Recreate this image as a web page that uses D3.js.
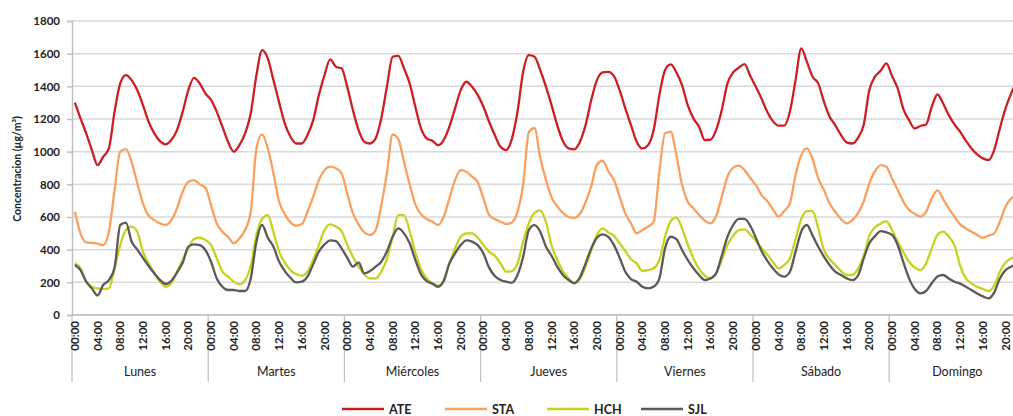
<!DOCTYPE html>
<html>
<head>
<meta charset="utf-8">
<script src="https://cdn.jsdelivr.net/npm/d3@7"></script>
<style>
  html, body { margin: 0; padding: 0; background: #fff; }
  svg { display: block; font-family: Lato, "Open Sans", sans-serif; }
</style>
</head>
<body>
<svg id="chart" width="1013" height="416"></svg>
<script>
// ---------------- DATA ----------------
const days = ["Lunes", "Martes", "Miércoles", "Jueves", "Viernes", "Sábado", "Domingo"];
const hours = ["00:00","01:00","02:00","03:00","04:00","05:00","06:00","07:00","08:00","09:00","10:00","11:00",
               "12:00","13:00","14:00","15:00","16:00","17:00","18:00","19:00","20:00","21:00","22:00","23:00"];
const hourTickLabels = ["00:00", "04:00", "08:00", "12:00", "16:00", "20:00"];
const yTicks = [0, 200, 400, 600, 800, 1000, 1200, 1400, 1600, 1800];
const seriesNames = ["ATE", "STA", "HCH", "SJL"];

const ATE = [
  1300,1204,1112,1010,918,969,1020,1244,1418,1469,1438,1377,1285,1183,1112,1065,1045,1071,1132,1244,1377,1452,1418,1357,
  1317,1245,1153,1061,1000,1040,1112,1234,1469,1622,1571,1438,1302,1173,1091,1050,1050,1102,1193,1346,1469,1565,1520,1510,
  1397,1255,1132,1061,1050,1081,1204,1400,1581,1587,1510,1418,1275,1142,1081,1067,1040,1071,1153,1265,1377,1428,1397,1346,
  1275,1183,1102,1030,1010,1077,1244,1489,1591,1581,1500,1400,1285,1163,1065,1020,1014,1061,1163,1316,1438,1485,1489,1463,
  1377,1265,1163,1061,1020,1040,1132,1346,1499,1534,1485,1408,1285,1204,1153,1071,1073,1132,1255,1418,1485,1514,1536,1465,
  1397,1326,1244,1187,1159,1159,1244,1438,1632,1550,1459,1418,1306,1214,1163,1102,1057,1050,1085,1163,1377,1459,1495,1540,
  1463,1387,1261,1193,1142,1157,1167,1275,1350,1295,1224,1167,1122,1067,1020,983,959,949,1010,1142,1265,1357,1430,1480
];
const STA = [
  632,500,445,441,437,428,510,765,1000,1016,938,806,683,608,581,561,551,581,653,755,816,826,800,779,
  673,561,510,479,439,469,520,632,1020,1106,1020,867,694,616,567,547,557,632,724,826,887,908,898,867,
  745,622,555,506,490,520,673,870,1105,1077,938,800,677,616,588,571,551,602,714,826,887,877,847,812,
  714,612,588,571,557,567,632,800,1120,1145,965,830,720,665,625,600,595,620,690,790,920,945,881,826,
  724,622,561,500,520,541,571,877,1112,1122,979,796,694,653,612,578,561,606,724,847,902,914,887,840,
  796,734,698,647,602,637,683,857,979,1020,955,836,765,683,632,588,561,581,622,694,806,881,918,908,
  836,765,694,643,620,602,632,714,763,710,653,602,555,530,510,490,473,486,500,571,663,714,730,740
];
const HCH = [
  316,286,204,173,163,159,163,286,428,520,541,510,388,316,255,204,173,194,265,337,408,465,473,459,
  428,347,265,235,204,188,214,302,490,588,612,506,388,322,275,249,241,265,337,428,520,555,541,514,
  428,357,296,249,224,224,265,345,479,612,612,514,384,282,224,194,180,214,316,408,479,500,500,473,
  428,388,363,316,265,269,316,449,560,625,640,571,428,337,269,224,198,220,296,398,490,530,506,486,
  439,392,341,316,269,275,286,337,479,575,598,530,432,347,282,241,224,255,337,428,486,520,524,494,
  453,408,371,326,286,306,347,465,588,636,636,530,398,343,306,269,245,245,282,360,486,537,559,575,
  520,449,384,326,290,275,316,408,490,510,479,428,302,224,194,173,159,147,180,265,322,347,360,370
];
const SJL = [
  306,275,204,163,120,184,214,290,551,565,450,400,350,300,255,215,190,210,260,320,418,432,428,398,
  326,224,173,153,153,147,147,224,449,551,473,418,326,269,228,200,204,235,310,388,432,457,453,408,
  351,296,322,255,269,296,326,390,479,530,500,439,337,249,208,192,173,208,316,377,428,457,449,428,
  377,290,239,214,204,198,245,357,520,550,510,420,363,296,245,214,194,231,316,408,473,494,479,428,
  351,265,220,204,173,163,173,224,408,479,465,398,337,286,245,214,224,255,363,479,551,588,588,547,
  473,392,333,286,249,235,265,388,510,551,486,418,357,306,265,245,224,214,241,345,439,483,514,506,
  490,428,322,224,159,133,147,194,235,245,224,204,192,173,153,131,114,102,137,224,275,296,310,320
];
const seriesColors = ["#cc1f24", "#f9a05e", "#c6d21c", "#5a5a5a"];

// ------------- BUILD -------------
const categories = [];
days.forEach(d => hours.forEach(h => categories.push(d + " " + h)));
const series = [ATE, STA, HCH, SJL];

const svg = d3.select("#chart");
const mLeft = 72, mTop = 21, mBottom = 315;
const dayWidth = 136.2;
const mRight = mLeft + dayWidth * days.length;

const x = d3.scaleBand().domain(categories).range([mLeft, mRight]).padding(0);
const cx = c => x(c) + x.bandwidth() / 2;
const y = d3.scaleLinear().domain([0, 1800]).range([mBottom, mTop]);

// gridlines
svg.append("g").selectAll("line").data(yTicks).join("line")
  .attr("x1", mLeft).attr("x2", mRight)
  .attr("y1", d => y(d)).attr("y2", d => y(d))
  .attr("stroke", "#d9d9d9").attr("stroke-width", 1.5);

// y axis
const yAxis = svg.append("g").attr("transform", `translate(${mLeft},0)`)
  .call(d3.axisLeft(y).tickValues(yTicks).tickSize(5).tickPadding(7).tickFormat(d => d));
yAxis.select(".domain").attr("stroke", "#bfbfbf").attr("stroke-width", 1.5);
yAxis.selectAll(".tick line").attr("stroke", "#bfbfbf").attr("stroke-width", 1.5);
yAxis.selectAll(".tick text").attr("font-size", 11.5).attr("font-weight", "bold").attr("fill", "#222")
  .attr("font-family", "Lato, sans-serif");

// y title
svg.append("text")
  .attr("transform", `translate(21,${(mTop + mBottom) / 2 + 1}) rotate(-90)`)
  .attr("text-anchor", "middle")
  .attr("font-size", 10.5).attr("font-weight", "bold").attr("fill", "#222")
  .text("Concentracion (µg/m³)");

// x axis line
svg.append("line").attr("x1", mLeft).attr("x2", mRight).attr("y1", mBottom).attr("y2", mBottom)
  .attr("stroke", "#bfbfbf").attr("stroke-width", 1.5);

// day separators
svg.append("g").selectAll("line").data(d3.range(days.length + 1)).join("line")
  .attr("x1", i => x(categories[Math.min(i * 24, categories.length - 1)]) + (i === days.length ? x.bandwidth() : 0))
  .attr("x2", i => x(categories[Math.min(i * 24, categories.length - 1)]) + (i === days.length ? x.bandwidth() : 0))
  .attr("y1", mBottom).attr("y2", 382)
  .attr("stroke", "#bfbfbf").attr("stroke-width", 1.2);

// hour labels
const hourCats = [];
days.forEach(d => hourTickLabels.forEach(h => hourCats.push({ cat: d + " " + h, label: h })));
svg.append("g").selectAll("text").data(hourCats).join("text")
  .attr("transform", d => `translate(${cx(d.cat) + 4},${mBottom + 6}) rotate(-90)`)
  .attr("text-anchor", "end")
  .attr("font-size", 11.5).attr("font-weight", "bold").attr("fill", "#222")
  .text(d => d.label);

// day labels
svg.append("g").selectAll("text").data(days).join("text")
  .attr("x", (d, i) => x(categories[i * 24]) + dayWidth / 2)
  .attr("y", 376)
  .attr("text-anchor", "middle")
  .attr("font-size", 12.5).attr("fill", "#222")
  .text(d => d);

// lines
const line = d3.line()
  .x((d, i) => cx(categories[i]))
  .y(d => y(d))
  .curve(d3.curveMonotoneX);
svg.append("g").selectAll("path").data(series).join("path")
  .attr("d", d => line(d))
  .attr("fill", "none")
  .attr("stroke", (d, i) => seriesColors[i])
  .attr("stroke-width", 2.3)
  .attr("stroke-linejoin", "round");

// legend
const legendX = [342, 445, 547, 641];
const legendLen = 42;
const lg = svg.append("g").selectAll("g").data(seriesNames).join("g")
  .attr("transform", (d, i) => `translate(${legendX[i]},409)`);
lg.append("line").attr("x1", 0).attr("x2", legendLen).attr("y1", 0).attr("y2", 0)
  .attr("stroke", (d, i) => seriesColors[i]).attr("stroke-width", 2.5);
lg.append("text").attr("x", legendLen + 5).attr("y", 4.5)
  .attr("font-size", 12.5).attr("font-weight", "bold").attr("fill", "#222")
  .text(d => d);
</script>
</body>
</html>
